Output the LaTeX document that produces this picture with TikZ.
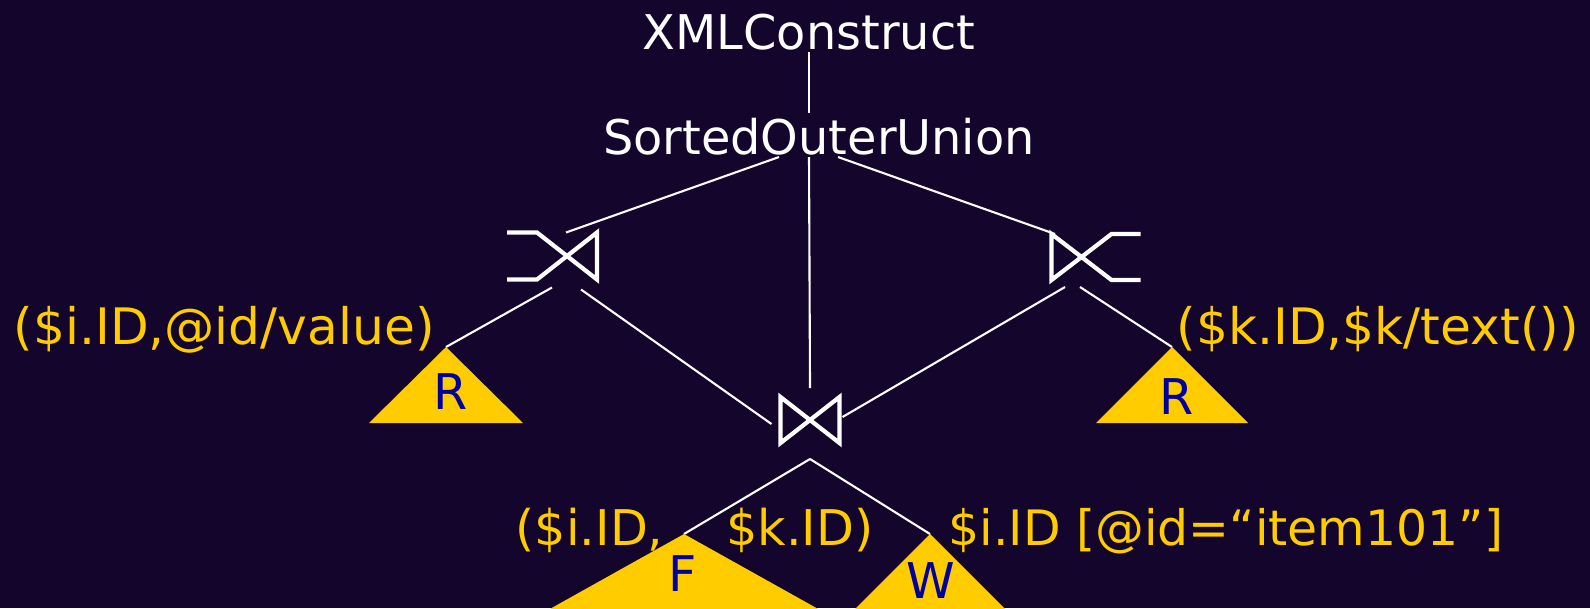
\documentclass[tikz,border=0pt]{standalone}
\usepackage{fontspec}
\setmainfont{DejaVu Sans}
\usepackage{tikz}
\definecolor{bgpurple}{HTML}{13052C}
\definecolor{relgold}{HTML}{FFCC00}
\definecolor{relblue}{HTML}{0000A0}

\begin{document}
\begin{tikzpicture}[x=0.1mm,y=-0.1mm,
    wire/.style={white,line width=0.6pt},
    joinsym/.style={white,line width=1.2pt,line join=miter},
    op/.style={text=white,inner sep=0pt,anchor=base,font=\fontsize{13.6}{16}\selectfont},
    pred/.style={text=relgold,inner sep=0pt,anchor=base west,font=\fontsize{14}{17}\selectfont},
    relname/.style={text=relblue,inner sep=0pt,anchor=base,font=\fontsize{14}{17}\selectfont},
    joinbox/.style={inner sep=0pt,outer sep=0pt}
    ]
  \useasboundingbox (0,0) rectangle (1590,608);
  \fill[bgpurple] (0,0) rectangle (1590,608);
  \clip (0,0) rectangle (1590,608);

  % plan operators
  \node[op] (xml) at (809,49) {XMLConstruct};
  \node[op] (sou) at (819,154) {SortedOuterUnion};
  \coordinate (fan) at (809,157);
  \node[joinbox,minimum width=9mm,minimum height=4.7mm] (lj) at (552,256) {};
  \node[joinbox,minimum width=8.9mm,minimum height=4.6mm] (rj) at (1096,257) {};
  \node[joinbox,minimum width=5.9mm,minimum height=4.6mm] (mj) at (810,420) {};

  % relation leaves
  \coordinate (r1) at (446,347);
  \coordinate (r2) at (1172,347);
  \coordinate (f) at (684,534);
  \coordinate (w) at (930,534);

  % tree edges
  \draw[wire] ([yshift=-0.3mm]xml.base) -- ++(0,61);
  \draw[wire] ([xshift=-3mm]fan) -- ([xshift=1.4mm]lj.north);
  \draw[wire] (fan) -- ([yshift=0.9mm]mj.north);
  \draw[wire] ([xshift=2.9mm]fan) -- ([xshift=-4.1mm]rj.north);
  \draw[wire] ([yshift=-0.8mm]lj.south) -- (r1);
  \draw[wire] ([xshift=2.9mm,yshift=-1mm]lj.south) -- ([xshift=-0.9mm,yshift=-0.4mm]mj.west);
  \draw[wire] ([xshift=-3.1mm,yshift=-0.7mm]rj.south) -- ([xshift=0.3mm,yshift=0.3mm]mj.east);
  \draw[wire] ([xshift=-1.6mm,yshift=-0.7mm]rj.south) -- (r2);
  \draw[wire] ([yshift=-1.6mm]mj.south) -- (f);
  \draw[wire] ([yshift=-1.6mm]mj.south) -- (w);

  % predicates
  \node[pred,font=\fontsize{14.3}{17}\selectfont] (p1) at (13,344) {(\$i.ID,@id/value)};
  \node[pred,font=\fontsize{14.3}{17}\selectfont] (p2) at (1176,344) {(\$k.ID,\$k/text())};
  \node[pred] (p3) at (515,545) {(\$i.ID,\hspace{6.3mm}\$k.ID)};
  \node[pred,font=\fontsize{13.9}{17}\selectfont] (p4) at (948,545) {\$i.ID [@id=“item101”]};

  \fill[relgold] (r1) -- ++(-77,76) -- ++(154,0) -- cycle;
  \fill[relgold] (r2) -- ++(-76,76) -- ++(152,0) -- cycle;
  \fill[relgold] (f) -- ++(-238,133) -- ++(476,0) -- cycle;
  \fill[relgold] (w) -- ++(-120,120) -- ++(240,0) -- cycle;

  \node[relname] (r1name) at (451,409) {R};
  \node[relname] (r2name) at (1177,414) {R};
  \node[relname] (fname) at (683,591) {F};
  \node[relname] (wname) at (931,598) {W};

  % join symbols
  \draw[joinsym] (lj.north west) -- ++(30,0) -- (lj.south east) -- (lj.north east)
     -- ([xshift=3mm]lj.south west) -- (lj.south west);
  \draw[joinsym] (rj.north east) -- ++(-29,0) -- (rj.south west) -- (rj.north west)
     -- ([xshift=-2.9mm]rj.south east) -- (rj.south east);
  \draw[joinsym] (mj.north west) -- (mj.south east) -- (mj.north east)
     -- (mj.south west) -- cycle;
\end{tikzpicture}
\end{document}
